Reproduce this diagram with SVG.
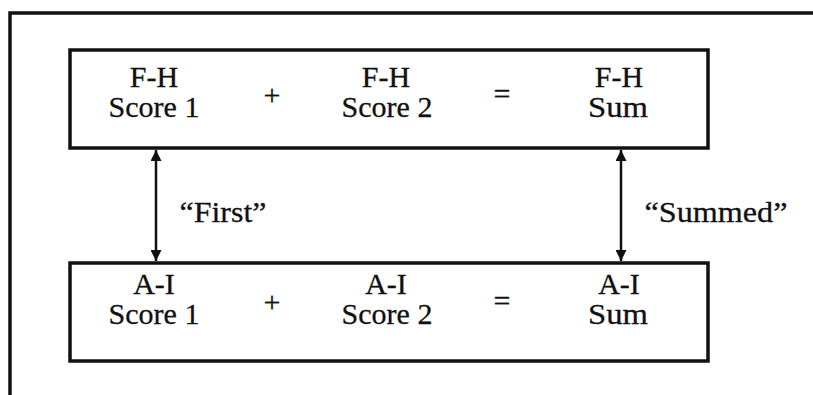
<svg xmlns="http://www.w3.org/2000/svg" width="813" height="395" viewBox="0 0 813 395">
<style>
.t{font-family:"Liberation Serif","Times New Roman",serif;font-size:30px;fill:#111;stroke:#111;stroke-width:0.3;text-anchor:middle}
.box{fill:#fff;stroke:#111;stroke-width:3.5}
.conn{stroke:#111;stroke-width:2.5;fill:none}
</style>
<defs>
<marker id="ah" viewBox="0 0 10 10" refX="10" refY="5" markerWidth="4.4" markerHeight="4.4" orient="auto-start-reverse" markerUnits="strokeWidth">
<path d="M0,0 L10,5 L0,10 Z" fill="#111"/>
</marker>
</defs>
<rect width="813" height="395" fill="#fff"/>
<path d="M10,395 V13 H813" fill="none" stroke="#111" stroke-width="3.5"/>
<g id="top">
<rect class="box" x="70" y="50" width="638" height="98"/>
<text class="t" x="154" y="87">F-H</text>
<text class="t" x="154" y="117">Score 1</text>
<text class="t" x="272" y="105">+</text>
<text class="t" x="386" y="87">F-H</text>
<text class="t" x="387" y="117">Score 2</text>
<text class="t" x="502" y="104">=</text>
<text class="t" x="619" y="87">F-H</text>
<text class="t" x="618" y="117" textLength="60" lengthAdjust="spacingAndGlyphs">Sum</text>
</g>
<g id="bottom">
<rect class="box" x="70" y="263" width="638" height="98"/>
<text class="t" x="154" y="294">A-I</text>
<text class="t" x="154" y="324">Score 1</text>
<text class="t" x="272" y="312">+</text>
<text class="t" x="386" y="294">A-I</text>
<text class="t" x="387" y="324">Score 2</text>
<text class="t" x="502" y="311">=</text>
<text class="t" x="619" y="294">A-I</text>
<text class="t" x="618" y="324" textLength="60" lengthAdjust="spacingAndGlyphs">Sum</text>
</g>
<g id="connectors">
<line class="conn" x1="156" y1="150" x2="156" y2="261" marker-start="url(#ah)" marker-end="url(#ah)"/>
<line class="conn" x1="621" y1="150" x2="621" y2="261" marker-start="url(#ah)" marker-end="url(#ah)"/>
<text class="t" x="223" y="222" textLength="87" lengthAdjust="spacingAndGlyphs">“First”</text>
<text class="t" x="716" y="222" textLength="143" lengthAdjust="spacingAndGlyphs">“Summed”</text>
</g>
</svg>
